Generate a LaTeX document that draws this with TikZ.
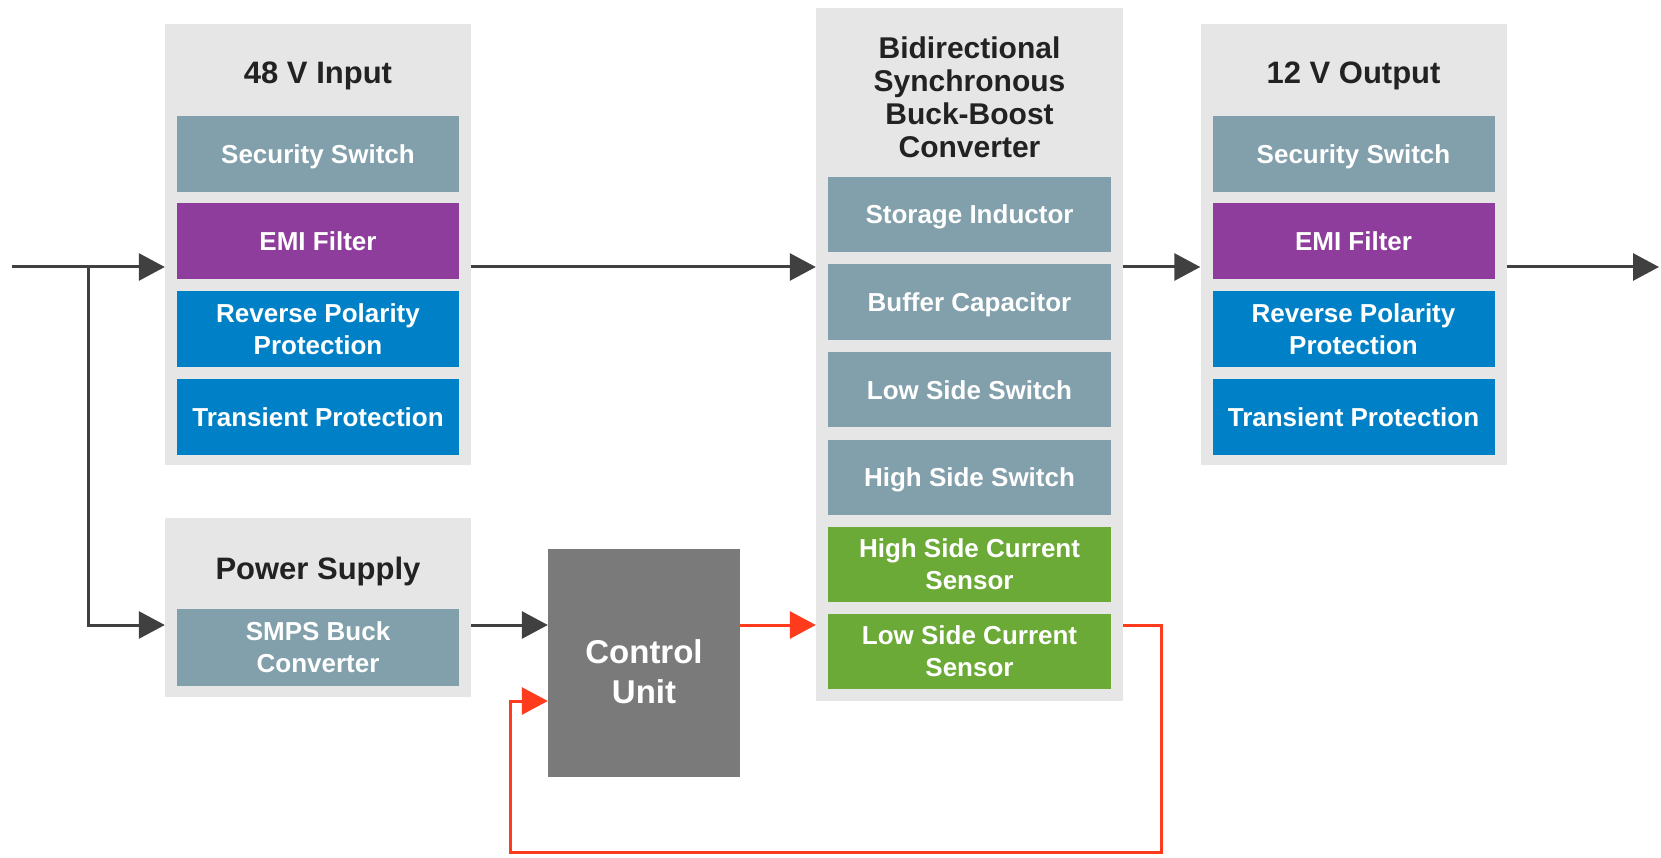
\documentclass[tikz,border=0pt]{standalone}
\usepackage{fontspec}
\setmainfont{Liberation Sans}
\usetikzlibrary{arrows.meta}
\definecolor{bgc}{HTML}{E6E6E6}
\definecolor{steel}{HTML}{82A0AB}
\definecolor{purp}{HTML}{8E3D9C}
\definecolor{blu}{HTML}{0081C7}
\definecolor{grn}{HTML}{6BAA36}
\definecolor{cug}{HTML}{7A7A7A}
\definecolor{redc}{HTML}{FF3B1E}
\definecolor{arrc}{HTML}{404040}
\definecolor{ttl}{HTML}{222222}
\begin{document}
\begin{tikzpicture}[x=1pt,y=-1pt,
 outer/.style={fill=bgc, minimum width=306pt, inner sep=0pt},
 inbox/.style={fill=#1, minimum width=282pt, minimum height=76pt, inner sep=0pt, text=white, align=center, font=\bfseries\fontsize{26}{32}\selectfont},
 oneline/.style={text height=19pt, text depth=0pt},
 cvbox/.style={inbox=#1, minimum width=283pt, minimum height=75pt},
 ttlnode/.style={text=ttl, inner sep=0pt, font=\bfseries\fontsize{31}{33}\selectfont, align=center},
 arr/.style={draw=arrc, line width=3pt, -{Triangle[length=26pt,width=27pt]}},
 redarr/.style={draw=redc, line width=3pt, line join=miter, -{Triangle[length=26pt,width=27pt]}}]
\useasboundingbox (0,0) rectangle (1661,858);
% 48 V input
\node[outer, minimum height=441pt] (box48) at (318,244.5) {};
\node[ttlnode, anchor=base] (t48) at (318,84) {48 V Input};
\node[inbox=steel, oneline] (ss1) at (318,154) {Security Switch};
\node[inbox=purp, oneline] (emi1) at (318,241.5) {EMI Filter};
\node[inbox=blu] (rp1) at (318,329) {Reverse Polarity\\Protection};
\node[inbox=blu, oneline] (tp1) at (318,416.5) {Transient Protection};
% 12 V output
\node[outer, minimum height=441pt] (box12) at (1353.5,244.5) {};
\node[ttlnode, anchor=base] (t12) at (1353.5,84) {12 V Output};
\node[inbox=steel, oneline] (ss2) at (1353.5,154) {Security Switch};
\node[inbox=purp, oneline] (emi2) at (1353.5,241.5) {EMI Filter};
\node[inbox=blu] (rp2) at (1353.5,329) {Reverse Polarity\\Protection};
\node[inbox=blu, oneline] (tp2) at (1353.5,416.5) {Transient Protection};
% converter
\node[outer, minimum width=307pt, minimum height=693pt] (conv) at (969.5,354.5) {};
\node[ttlnode, anchor=north, font=\bfseries\fontsize{30}{32.7}\selectfont] (tcv) at (969.5,37) {Bidirectional\\Synchronous\\Buck-Boost\\Converter};
\node[cvbox=steel, oneline] (si) at (969.5,214.5) {Storage Inductor};
\node[cvbox=steel, oneline] (bc) at (969.5,302) {Buffer Capacitor};
\node[cvbox=steel, oneline] (ls) at (969.5,389.5) {Low Side Switch};
\node[cvbox=steel, oneline] (hs) at (969.5,477) {High Side Switch};
\node[cvbox=grn] (hsc) at (969.5,564.5) {High Side Current\\Sensor};
\node[cvbox=grn] (lsc) at (969.5,651.5) {Low Side Current\\Sensor};
% power supply
\node[outer, minimum height=179pt] (ps) at (318,607.5) {};
\node[ttlnode, anchor=base] (tps) at (318,579) {Power Supply};
\node[inbox=steel, minimum height=77pt] (smps) at (318,647.5) {SMPS Buck\\Converter};
% control unit
\node[fill=cug, minimum width=192pt, minimum height=228pt, inner sep=0pt] (cu) at (644,663) {};
\node[anchor=north, text=white, inner sep=0pt, align=center, font=\bfseries\fontsize{33}{40}\selectfont] (cut) at (644,639) {Control\\Unit};
% coordinates
\coordinate (in) at (12,267);
\coordinate (j) at (88,267);
\coordinate (out) at (1659,267);
\coordinate (r) at (0,625);
\coordinate (fbc) at (1161,852);
\coordinate (fbd) at (510,852);
\coordinate (fbin) at (0,701);
% connectors
\draw[arr] (in) -- (in -| box48.west);
\draw[arr] (j) |- (r -| ps.west);
\draw[arr] (box48.east |- in) -- (conv.west |- in);
\draw[arr] (conv.east |- in) -- (box12.west |- in);
\draw[arr] (box12.east |- in) -- (out);
\draw[arr] (ps.east |- r) -- (cu.west |- r);
\draw[redarr] (cu.east |- r) -- (conv.west |- r);
\draw[redarr] (conv.east |- r) -| (fbc) -- (fbd) |- (fbin -| cu.west);
\end{tikzpicture}
\end{document}
